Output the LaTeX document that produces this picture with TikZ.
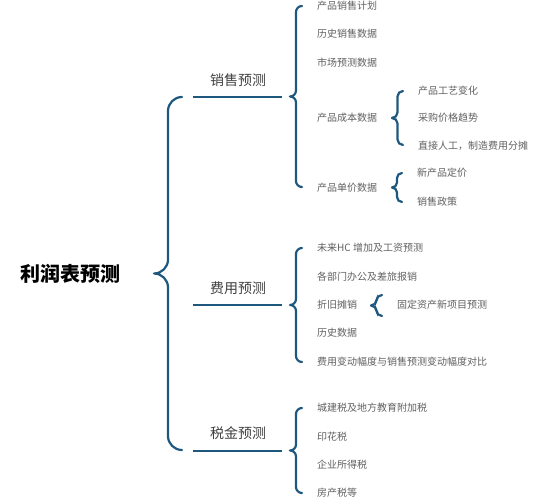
\documentclass[tikz,border=0pt]{standalone}
\usepackage{fontspec}
\setmainfont{Noto Sans CJK SC}
\usetikzlibrary{calc}
\usetikzlibrary{decorations.pathreplacing}

\definecolor{kuohaolan}{RGB}{31,88,126}
\definecolor{zihui}{RGB}{96,96,96}
\definecolor{leihui}{RGB}{64,64,64}

\tikzset{
    kuohao/.style={draw=kuohaolan,line width=2.2pt,line cap=round,rounded corners=#1pt,
        to path={(\tikztostart) -- ++(-#1,0) |- ($(\tikztostart)!.5!(\tikztotarget)+(-2*#1,0)$)
                 ($(\tikztostart)!.5!(\tikztotarget)+(-2*#1,0)$) -- ++(#1,0) |- (\tikztotarget)}},
    heng/.style={draw=kuohaolan,line width=2pt},
    xiang/.style={anchor=west,inner sep=0pt,text=zihui,font=\fontsize{10}{12}\selectfont},
    lei/.style={inner sep=0pt,text=leihui,font=\fontsize{14}{16}\selectfont}
}

\begin{document}
\begin{tikzpicture}[x=1pt,y=-1pt]

            %\draw [help lines] (0,0) grid[step=10] (557,500);
            \useasboundingbox (0,0) rectangle (557,500);

            \path   (70,274)  node (root) [inner sep=0pt,font=\bfseries\fontsize{20}{24}\selectfont] {利润表预测}
                    (238,80)  node (xs) [lei] {销售预测}
                    (238,288) node (fy) [lei] {费用预测}
                    (238,433) node (sj) [lei] {税金预测}
                    (317,6)   node (xs1) [xiang] {产品销售计划}
                    (317,34)  node (xs2) [xiang] {历史销售数据}
                    (317,63)  node (xs3) [xiang] {市场预测数据}
                    (317,118) node (xs4) [xiang] {产品成本数据}
                    (317,188) node (xs5) [xiang] {产品单价数据}
                    (418,91)  node (cb1) [xiang] {产品工艺变化}
                    (418,118) node (cb2) [xiang] {采购价格趋势}
                    (418,146) node (cb3) [xiang] {直接人工，制造费用分摊}
                    (417,173) node (dj1) [xiang] {新产品定价}
                    (417,202) node (dj2) [xiang] {销售政策}
                    (317,248) node (fy1) [xiang] {未来HC 增加及工资预测}
                    (317,277) node (fy2) [xiang] {各部门办公及差旅报销}
                    (317,305) node (fy3) [xiang] {折旧摊销}
                    (317,333) node (fy4) [xiang] {历史数据}
                    (317,362) node (fy5) [xiang] {费用变动幅度与销售预测变动幅度对比}
                    (397,305) node (zj1) [xiang] {固定资产新项目预测}
                    (317,408) node (sj1) [xiang] {城建税及地方教育附加税}
                    (317,437) node (sj2) [xiang] {印花税}
                    (317,465) node (sj3) [xiang] {企业所得税}
                    (317,493) node (sj4) [xiang] {房产税等};

            \path   (182,97)  coordinate (zongT)  (182,450) coordinate (zongB)
                    (302,6)   coordinate (xsT)    (302,187) coordinate (xsB)
                    (302,248) coordinate (fyT)    (302,362) coordinate (fyB)
                    (302,408) coordinate (sjT)    (302,493) coordinate (sjB)
                    (403,91)  coordinate (cbT)    (403,145) coordinate (cbB)
                    (402,173) coordinate (djT)    (402,202) coordinate (djB)
                    (382,295) coordinate (zjT)    (382,316) coordinate (zjB)
                    (193,97)  coordinate (xsL)    (282,97)  coordinate (xsR)
                    (193,305) coordinate (fyL)    (282,305) coordinate (fyR)
                    (193,451) coordinate (sjL)    (282,451) coordinate (sjR);

            \draw[kuohao=14] (zongT) to (zongB);
            \draw[kuohao=6] (xsT) to (xsB);
            \draw[kuohao=6] (fyT) to (fyB);
            \draw[kuohao=6] (sjT) to (sjB);
            \draw[kuohao=5.5] (cbT) to (cbB);
            \draw[kuohao=5] (djT) to (djB);
            \draw[kuohao=5.5] (zjT) to (zjB);

            \draw[heng] (xsL) -- (xsR);
            \draw[heng] (fyL) -- (fyR);
            \draw[heng] (sjL) -- (sjR);

        \end{tikzpicture}
\end{document}
